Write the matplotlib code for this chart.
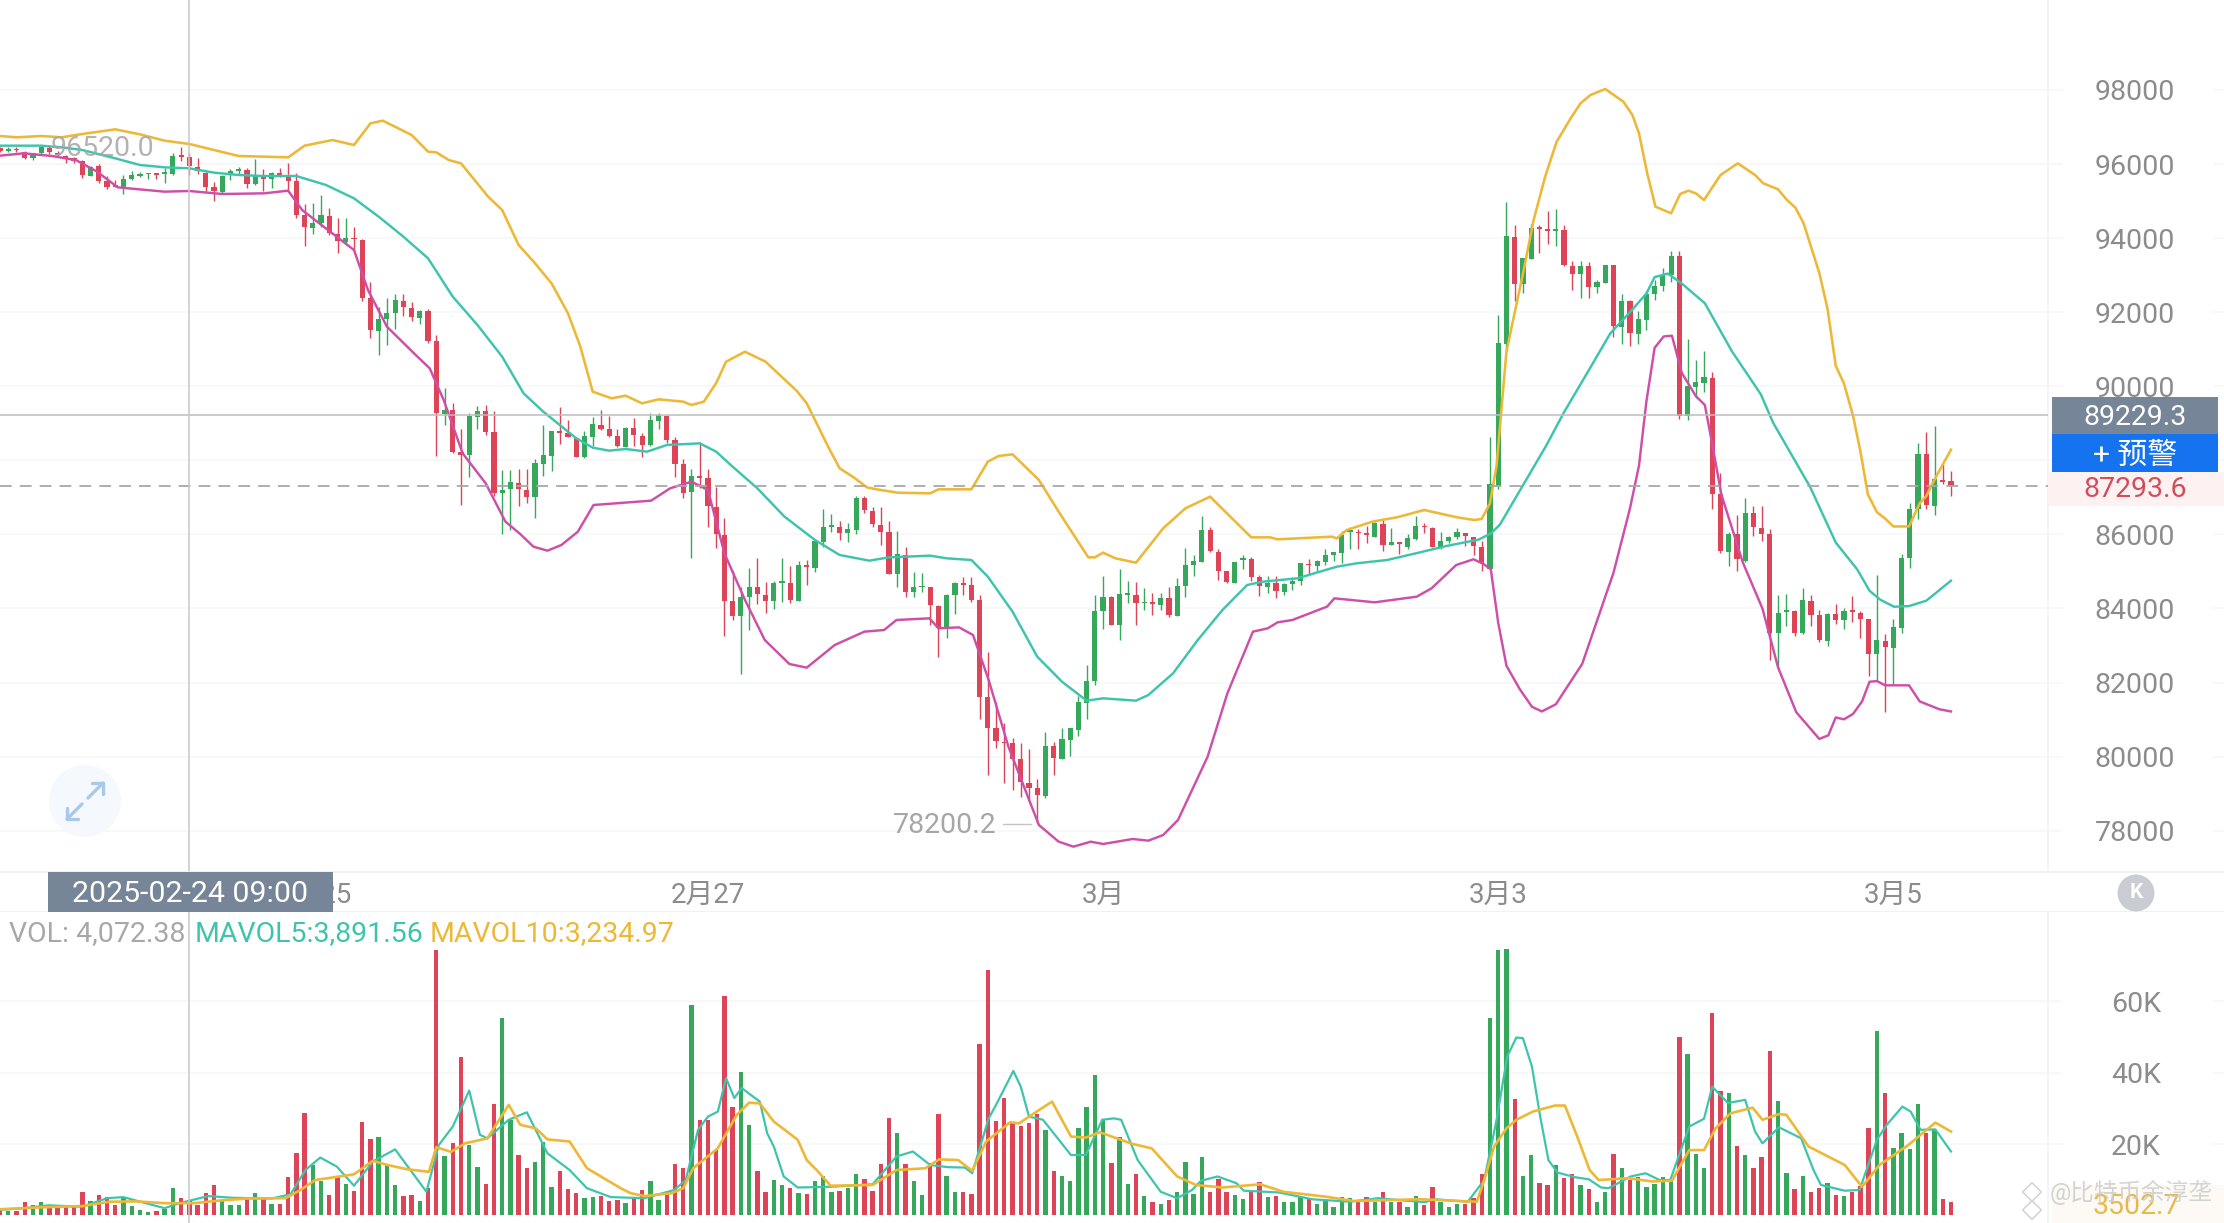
import matplotlib
matplotlib.use("Agg")
import matplotlib.pyplot as plt
from matplotlib.patches import Rectangle, Circle
import numpy as np

plt.rcParams['font.family'] = ['Roboto', 'Noto Sans CJK SC', 'DejaVu Sans']

# ---------------------------------------------------------------- data
open_ = [
96420,96360,96400,96325,96163,96289,96424,96307,96217,96154,
96073,95686,95947,95551,95425,95371,95587,95677,95722,95749,
95731,95722,96235,96199,95911,95767,95371,95245,95695,95803,
95839,95452,95659,95587,95749,95677,95551,94633,94282,94399,
94597,94111,93904,93985,93949,92374,91501,91807,91969,92311,
92122,91843,92041,91231,89242,89359,88234,88144,89179,89341,
88774,87109,87217,87397,87199,87019,87901,88126,88783,88729,
88594,88081,88639,88963,88837,88657,88369,88864,88666,88414,
89071,89197,88549,87901,87145,87559,87514,86749,85993,84211,
83797,84319,84571,84364,84193,84697,84697,84211,85174,85093,
85804,86209,86209,86029,86119,86974,86641,86263,86065,84931,
85444,84436,84571,84589,84067,83464,84364,84679,84643,84229,
81601,80764,80404,80359,79927,79297,79144,78937,80287,79945,
80449,80719,81457,82033,83932,84301,83563,84373,84364,84139,
84166,84094,84283,83806,84598,85165,85264,86119,85534,85003,
84697,85309,85327,84841,84571,84697,84454,84652,84733,85192,
85147,85255,85444,85489,86065,86074,86029,85939,86290,85723,
85786,85669,85876,86227,86182,85669,85831,85930,86029,85921,
85669,85077,87295,91152,94026,92753,93448,94296,94238,94200,
94219,93255,93023,93245,92676,92801,93274,91596,92310,91422,
91789,92483,92695,93004,93525,89205,89976,90101,90236,87083,
85521,86003,85290,86572,86167,86003,83342,83901,83920,83342,
84210,83824,83129,83843,83689,83920,83882,83708,82763,83130,
82937,83486,85367,86697,88163,86775,87449,87430]
close = [
96360,96400,96370,96163,96289,96469,96325,96235,96127,96073,
95695,95929,95533,95389,95389,95605,95704,95731,95749,95713,
95767,96217,96199,95947,95803,95371,95263,95677,95821,95857,
95461,95704,95587,95767,95713,95551,94633,94309,94399,94615,
94129,93931,94003,93967,92374,91519,91825,91987,92329,92149,
91861,92041,91231,89269,89359,88234,88144,89197,89341,88774,
87109,87199,87424,87217,87019,87919,88135,88792,88747,88639,
88099,88657,88981,88837,88666,88387,88882,88684,88423,89089,
89224,88549,87901,87127,87577,87532,86767,86011,84211,83806,
84319,84571,84391,84193,84697,84724,84229,85174,85129,85831,
86209,86254,86047,86137,86992,86659,86281,86074,84931,85471,
84454,84571,84616,84085,83464,84373,84679,84643,84229,81601,
80764,80422,80359,79945,79315,79162,78955,80296,79972,80467,
80764,81466,82051,83941,84319,83563,84382,84400,84139,84184,
84121,84283,83815,84607,85174,85282,86119,85543,85021,84706,
85264,85336,84850,84607,84679,84481,84661,84742,85219,85165,
85282,85444,85516,85984,86092,86029,85993,86299,85714,85795,
85732,85894,86227,86191,85669,85831,85939,86074,85957,85687,
85219,87372,91162,94045,92753,93467,94267,94248,94200,94238,
93274,93043,93255,92676,92821,93284,91615,92310,91442,91808,
92503,92705,93014,93525,89205,89995,90111,90246,87103,85540,
86022,85328,86582,86196,86022,83342,83872,83930,83342,84219,
83824,83149,83863,83689,83920,83901,83728,82783,83149,82956,
83496,85376,86697,88163,86794,87488,87411,87293.6]
high = [
96450,96450,96470,96361,96289,96496,96487,96361,96235,96199,
96109,95947,95992,95677,95569,95695,95812,95794,95749,95749,
95884,96289,96469,96289,96154,95785,95524,95704,95857,95911,
95884,96127,95857,95794,95884,96037,95749,94921,94939,95164,
94804,94534,94534,94309,93967,92824,92131,92374,92482,92491,
92275,92059,92086,91384,89944,89539,88837,89287,89467,89494,
89341,87739,87739,87757,87757,88027,88954,88792,89431,89089,
88639,88792,89161,89359,89197,88837,88891,89134,88747,89269,
89287,89215,88621,88027,87757,88504,87757,87271,86434,85012,
84571,85084,85354,84724,84751,85372,85147,85282,85309,85849,
86677,86551,86371,86317,87037,87037,86749,86731,86362,86101,
85651,84994,84949,84589,84094,84391,84715,84859,84841,84364,
82834,81484,80917,80494,80377,80197,79387,80674,80404,80764,
80764,81637,82474,84364,84877,84337,85075,84742,84724,84544,
84427,84427,84571,84814,85624,85444,86497,86191,85597,85021,
85264,85435,85381,84904,84886,84877,84697,84859,85237,85327,
85309,85597,85534,86101,86209,86146,86227,86344,86416,86164,
85804,86002,86506,86299,86209,86056,85966,86164,86047,85939,
85831,88626,91924,94971,94364,93467,94393,94364,94720,94798,
94364,93370,93370,93351,92869,93284,93284,92503,92339,92020,
92580,92869,93206,93660,93660,91278,90699,90940,90391,87662,
86071,86524,86987,86765,86765,86138,84354,84402,83949,84547,
84354,83949,83882,84123,84017,84335,83920,83727,84914,83322,
83727,85463,86842,88462,88771,88915,87903,87710]
low = [
96330,96330,96330,96145,96109,96271,96271,96199,96037,96037,
95614,95677,95497,95317,95371,95182,95569,95641,95605,95587,
95479,95704,96091,95704,95722,95254,95011,95227,95569,95731,
95344,95434,95281,95344,95641,95254,94534,93796,94120,94291,
94084,93607,93814,93661,92302,91294,90844,91114,91537,91897,
91771,91672,91177,88117,88954,88207,86794,87541,88837,88684,
87037,86011,86119,86767,86839,86452,87577,87721,88441,88621,
88081,88072,88387,88819,88639,88351,88351,88387,88081,88396,
88837,88459,87541,86974,85372,87244,86209,85624,83257,83689,
82222,83419,84121,83887,83986,84184,84139,84202,84634,84994,
85669,86074,85849,85804,86011,86587,86191,85714,84922,84589,
84301,84301,84454,83554,82681,83194,83851,84364,84184,81007,
79495,80224,79297,79099,78919,78784,78200.2,78874,79495,79927,
80017,80557,81025,81934,83446,83545,83149,84157,83545,83959,
83824,83959,83761,83797,84301,84886,85255,85525,84769,84697,
84679,85057,84751,84337,84409,84274,84364,84499,84634,84931,
84985,85165,85291,85237,85597,85615,85759,85939,85561,85705,
85471,85615,85849,86029,85651,85597,85759,85885,85687,85435,
85012,85058,87228,90940,92290,92531,93448,93611,93853,93785,
93235,92599,92387,92387,92531,92792,91326,91133,91085,91152,
91519,92339,92580,92821,89127,89089,89687,89851,86698,85492,
85135,85010,85251,85945,85810,82599,82406,83535,83245,83303,
83535,83091,82985,83593,83438,83631,83207,82185,82069,81201,
81924,83342,85106,86427,86678,86533,87372,87045]
volume = [
1700,1300,1300,3600,2800,3600,2600,2400,2200,2400,
6400,4100,5600,5200,2900,5200,2600,1500,1000,1100,
1700,7600,4800,4072.38,2900,6200,8500,4300,2800,2800,
4500,6200,5100,3200,3200,10700,17600,28800,14100,9500,
5600,10700,8800,6900,26100,21400,21900,14100,8500,5400,
5700,4100,7600,74500,16500,20200,44300,19700,13500,8800,
31200,55300,26800,16900,13400,14900,20700,8000,12400,7400,
6200,4900,5100,5400,4100,4300,3400,5100,7100,9600,
4300,6600,14400,13200,58900,26800,26800,18300,61400,30500,
40300,25400,12400,6500,10000,8500,7600,6200,6000,9500,
11000,6500,6900,7600,11500,10200,6900,14300,27400,23000,
14400,9500,5700,14600,28400,11000,6600,6400,6000,48200,
68900,26600,32900,25800,25100,25800,28500,24000,12500,11000,
9500,24400,30400,39400,27000,14800,22100,8800,11500,5400,
3700,3300,4200,6500,14900,6000,16300,6400,10200,6500,
5600,4700,6600,9400,5000,5400,3800,3700,5200,4500,
3200,4100,2200,5000,4800,4000,5200,3600,6600,3600,
3600,2200,5500,2900,7800,3800,2400,3100,3100,4800,
11600,55300,74400,74800,32600,10900,16900,9000,8500,14000,
10400,11600,8400,7500,3700,6400,17100,13200,9900,10700,
7800,8700,10700,9500,50000,45200,17200,13400,56700,34800,
34300,19500,16900,13200,16300,46000,32100,11800,7300,11000,
6600,7700,9000,5800,5500,6600,8200,24400,51700,34400,
18800,23200,18500,31200,23000,23800,4700,3600]

boll_up_k = [0,2,5,7.5,10,14,17,20,23,26,29,35,37,40.4,43,45,46.5,50,52,53,54.5,56,59.3,61,63,65,67,69,70.5,72,
             74.3,76,78,80,83,84,85.5,87,88.2,90.5,93,96.8,98,99.2,100.6,102,103.7,105.3,106.5,109,113,114,118,120,
             121.3,123,126.2,128.6,132.2,133,134,135.5,138,141.3,144,147,152,154.3,155.2,161.8,162.4,163.6,166.7,
             169.7,173,177,179.1,180,181,181.8,182.4,183,185.1,186.3,187.7,189.1,190.8,192,193.2,195,197.2,198.3,
             199.1,200.1,201.1,203,204.1,205.1,206,207,209,211.1,213.2,214.2,216,217,218.1,219.1,221,222,223,224,
             225.1,226,226.9,228,229,230,231.9,233.2,234,235.2,237]
boll_up = [96757,96721,96757,96721,96811,96937,96802,96631,96541,96379,96217,96181,96496,96649,96514,97099,97171,96784,
           96334,96316,96109,96019,95119,94759,93814,93319,92779,91969,91069,89854,89674,89746,89539,89647,89584,89494,
           89584,90088,90663,90933,90663,89872,89539,88999,88369,87784,87541,87271,87217,87127,87109,87217,87217,87964,
           88117,88162,87469,86614,85381,85381,85507,85354,85237,86164,86704,87019,85921,85921,85867,85939,85894,86119,
           86344,86461,86659,86461,86388,86420,86840,87855,89398,90940,93139,94489,95659,96604,97234,97639,97864,98026,
           97684,97324,96829,95749,94849,94669,95191,95281,95209,95029,95704,96019,95704,95479,95317,95047,94822,94399,
           93062,92098,90555,90073,89205,88240,87083,86601,86428,86215,86215,86842,87035,87565,88288]

boll_mid_k = [0,5,7.5,10,14,17,20,23,26,29,32,36,39.6,43,46,49,52,55,58,61,63.6,66,68,70,72,74,76,78.6,81,85,87,89,
              92,95.3,99,102,105.6,108,113,115,118,120,123,126,129,132,134,138,139.5,142.5,145.5,148.5,151.5,153.4,
              157.6,162.4,164.8,168.5,172,175.7,179.6,181.1,182.2,185,187.8,190,193.2,195.6,198.2,200,201,202.6,204.3,
              207.1,210.4,213.9,215.4,219.9,223,225.6,227.1,228.4,230.1,231.9,234,237]
boll_mid = [96496,96496,96451,96379,96154,95974,95911,95884,95767,95704,95677,95677,95434,95074,94579,94039,93454,92419,
            91654,90799,89809,89314,88954,88594,88342,88261,88306,88234,88414,88459,88234,87829,87244,86479,85849,85444,
            85291,85381,85426,85354,85309,84859,83914,82699,82024,81511,81574,81511,81664,82249,83149,83959,84634,84724,
            84814,85129,85219,85309,85489,85687,85858,86022,86263,87324,88385,89301,90507,91423,92049,92503,92946,93043,
            92773,92242,90940,89783,89012,87276,85781,85058,84480,84238,84046,84065,84210,84750]

boll_low_k = [0,2.9,6.3,9.2,11.8,14.3,20,23,27,32.1,35,36.7,40.1,43,44.7,47,50.5,52.2,53.9,56.2,59,61.4,63.1,64.8,66.5,
              68.2,70.2,72.1,79.1,81.4,84,86,88,90.5,92.9,95.9,98,101.4,105,107.4,108.9,112.9,114,116.5,118.2,120.1,
              122.5,126.2,128.6,130.4,132.5,134,137.6,139.5,141.3,143.1,146.7,149.1,152.2,154,155.2,157,161.2,162.1,
              167,172.1,173.9,176.9,179,180.2,181.1,182,183,184.6,186.1,187.3,189,192.2,196,198,199.1,200,201,202.1,
              203.1,204.3,206,207.1,208,209.1,211.7,214.1,216,218.2,221,222.1,223,224,225.1,226.2,227.1,228,229,231.9,
              233.2,235.6,237]
boll_low = [96226,96289,96217,96109,95794,95371,95254,95272,95191,95209,95281,94759,94174,93679,92599,91609,90844,90484,
            89629,88189,87379,86344,86029,85669,85561,85714,86074,86794,86911,87244,87424,87199,85489,84229,83149,82501,
            82402,83014,83374,83419,83689,83734,83464,83491,83284,82069,80269,78154,77704,77569,77704,77641,77776,77731,
            77884,78289,79999,81709,83374,83464,83626,83689,84049,84274,84166,84319,84544,85174,85328,85203,85058,83612,
            82454,81828,81346,81220,81413,82503,84962,86698,87855,89590,91037,91345,91365,90362,89735,89494,88433,87083,
            85251,83997,82406,81201,80478,80574,81057,81008,81153,81491,82021,82040,81925,81925,81491,81278,81220]

mavol5_k = [0,2.9,5.9,10,13,15,17.7,20,21.8,25.3,28.3,33,35.3,37.1,38.9,40.9,43,45.3,48,51.8,53.3,55,57,58.3,59.2,61.8,64,
            66.5,69.2,71.3,74.2,78.3,81.9,83.3,84.8,86,87.2,88.2,89.2,90.1,92.3,93.2,94,95.2,96.9,100.9,106,108.9,110.9,
            113,115.2,117.2,118.1,120.1,121,123.1,124,125,126.7,130.1,131.9,133.9,135.3,136.2,138.2,141,143,144.8,145.9,
            147.9,150.2,151.1,155.4,159.4,164,167.4,170.8,173.1,174.3,178.3,180.3,181.8,183.1,184.2,185,186.1,187.1,188.1,
            189.2,191.3,193,194.5,195.4,198.1,199.9,201.6,202.9,205.2,207,208,209.9,212,213.2,214.1,216.1,218.8,220.3,
            221.2,224.1,225.9,228,229.2,231.1,232.1,233.3,235.1,237]
mavol5 = [1500,2000,2800,2400,4800,5100,3400,2000,3400,5400,4900,4700,5900,12700,16200,13700,8300,15100,18500,6600,19700,
          24900,35000,22600,21600,26800,28900,17400,12700,7600,5100,4800,7100,9900,24000,27700,29100,38500,32900,35700,
          31900,23000,19300,10900,7800,8000,8700,16500,17900,14100,13500,13400,11800,27200,31000,40500,36100,27700,26800,
          16900,16900,26800,27200,26800,15500,6600,4800,7100,9700,10900,9000,6900,6400,4500,3800,4800,4100,3700,4500,3800,
          9900,26800,44600,49900,49700,41700,27700,15500,12000,10700,10100,7800,7600,10900,11800,9900,9900,24900,27100,
          36100,31500,32400,23500,20200,24700,21600,12700,8500,6900,7100,21200,25400,30500,29100,24000,24100,17900]

mavol10_k = [0,4.7,10,13.3,16.5,20,23.6,26.5,30,34.7,36.5,38.3,43,45.3,47.1,49.5,52.1,53,54.8,56.5,59.2,61.8,63.2,65.1,66.5,
             69.2,71.3,75.4,76.6,78.3,81.6,83,84.2,87.2,89.5,91,92.3,94,96.9,98,99.2,100.9,106,108.9,112.4,114.1,116.4,
             118.1,119.8,122.7,123.8,125.6,127.8,130.1,131.9,133.6,137.6,139.9,143,145.3,148.5,153.1,155.9,161.1,164.5,
             172.6,179.4,180.3,181.5,183,184.2,186.2,188.9,190.1,191.6,193.1,194.2,197.8,200.7,203.1,205.2,207,208.4,210.2,
             212.9,214.1,216.1,217,219.7,224.1,226.2,228.3,231.8,235.1,237]
mavol10 = [1700,2200,2600,3800,3900,3400,3400,4100,4700,4800,7100,9900,11500,15300,14100,12900,12200,19100,17800,20200,
           21600,31000,25400,24400,21300,20700,13200,7600,6200,5400,6200,7600,13200,18800,28200,31600,31400,26300,21200,
           15500,12700,8300,8500,12700,13200,15700,15500,12500,20700,26100,25800,28600,31900,22100,21800,23300,20000,18800,
           10900,8500,7800,8700,6600,5200,4000,4500,3800,9900,19300,24400,26800,29100,30800,30800,22100,12700,9900,10400,
           9500,9700,18300,18300,24400,28600,30200,26800,28400,28200,19300,14100,8000,14100,19700,26000,23500]

price_ticks = [78000, 80000, 82000, 84000, 86000, 88000, 90000, 92000, 94000, 96000, 98000]
price_labels = ['78000', '80000', '82000', '84000', '86000', '', '90000', '92000', '94000', '96000', '98000']
vol_ticks = [20000, 40000, 60000]
vol_labels = ['20K', '40K', '60K']
date_k = [38.2, 86, 134, 182, 230]
date_labels = ['2月25', '2月27', '3月', '3月3', '3月5']
cross_k = 23
last_price = 87293.6
cross_price = 89229.3

# ---------------------------------------------------------------- style
W, H = 2224, 1223
PX = 8.232
GREEN, RED = '#35A85B', '#DE4458'
YEL, TEAL, MAG = '#EDB836', '#3EC4AD', '#CE4FA8'
GRID = '#F6F6F6'
GRAY = '#8C8C8C'
SLATE = '#778598'
FS = 20.5

fig = plt.figure(figsize=(W / 100, H / 100), dpi=100, facecolor='white')
def axes_px(top, bottom):
    return fig.add_axes([0, 1 - bottom / H, 1, (bottom - top) / H])

ax = axes_px(0, 871.7)
ax_x = axes_px(871.7, 911.7)
ax_v = axes_px(911.7, H)
xlim = (0, W / PX)
k = np.arange(len(close))
o, c, hi, lo = map(np.array, (open_, close, high, low))
up = c >= o
colors = np.where(up, GREEN, RED)

# price panel
ax.set_xlim(xlim)
ax.set_ylim(76893, 100429)
GX1, GX2 = 2063 / W, 2213 / W
ax.hlines(price_ticks, 0, GX1, transform=ax.get_yaxis_transform(), color=GRID, lw=1.1, zorder=1)
ax.hlines(price_ticks, GX2, 1, transform=ax.get_yaxis_transform(), color=GRID, lw=1.1, zorder=1)
ax.axvline(2048 / PX, color='#F2F2F2', lw=1.2, zorder=1)
ax.vlines(k, lo, hi, colors=colors, lw=1.0, zorder=3)
body_h = np.maximum(np.abs(c - o), 45)
ax.bar(k, body_h, bottom=np.minimum(o, c), width=0.63, color=colors, lw=0, zorder=3)
ax.plot(boll_up_k, boll_up, color=YEL, lw=1.85, zorder=4, solid_joinstyle='round')
ax.plot(boll_mid_k, boll_mid, color=TEAL, lw=1.75, zorder=4, solid_joinstyle='round')
ax.plot(boll_low_k, boll_low, color=MAG, lw=1.75, zorder=4, solid_joinstyle='round')
lx2 = 2048 / W
ax.hlines(cross_price, 0, lx2, transform=ax.get_yaxis_transform(), color='#BDBDBD', lw=1.1, zorder=5)
ax.hlines(last_price, 0, lx2, transform=ax.get_yaxis_transform(), color='#A8A8A8', lw=1.3,
          linestyles=(0, (6.5, 4.5)), zorder=5)
ax.set_yticks(price_ticks, price_labels)
ax.yaxis.tick_right()
ax.tick_params(axis='y', length=0, pad=-(W - 2135) * 0.72, labelsize=FS, labelcolor=GRAY)
for t in ax.get_yticklabels():
    t.set_ha('center')
ax.set_xticks([])
for s in ax.spines.values():
    s.set_visible(False)

# date strip
ax_x.set_xlim(xlim)
ax_x.set_ylim(0, 1)
ax_x.set_yticks([])
ax_x.set_xticks(date_k, date_labels)
ax_x.tick_params(axis='x', length=0, pad=-30 * 0.72, labelsize=FS - 0.5, labelcolor=GRAY)
for n, s in ax_x.spines.items():
    s.set_visible(n in ('top', 'bottom'))
    s.set_color('#EFEFEF')
    s.set_linewidth(1.2)
ax_x.set_facecolor('none')

# volume panel
ax_v.set_xlim(xlim)
ax_v.set_ylim(-2163, 85197)
ax_v.hlines(vol_ticks, 0, GX1, transform=ax_v.get_yaxis_transform(), color=GRID, lw=1.1, zorder=1)
ax_v.hlines(vol_ticks, GX2, 1, transform=ax_v.get_yaxis_transform(), color=GRID, lw=1.1, zorder=1)
ax_v.axvline(2048 / PX, color='#F2F2F2', lw=1.2, zorder=1)
ax_v.bar(k, volume, width=0.53, color=colors, lw=0, zorder=3)
ax_v.plot(mavol5_k, mavol5, color=TEAL, lw=1.6, zorder=4, solid_joinstyle='round')
ax_v.plot(mavol10_k, mavol10, color=YEL, lw=1.9, zorder=4, solid_joinstyle='round')
ax_v.set_yticks(vol_ticks, vol_labels)
ax_v.yaxis.tick_right()
ax_v.tick_params(axis='y', length=0, pad=-(W - 2136) * 0.72, labelsize=FS, labelcolor=GRAY)
for t in ax_v.get_yticklabels():
    t.set_ha('center')
ax_v.set_xticks([])
for s in ax_v.spines.values():
    s.set_visible(False)

# crosshair through all panels
for a in (ax, ax_v):
    a.axvline(cross_k, color='#C8C8C8', lw=1.1, zorder=6)

# overlay in image pixels for labels and badges
ov = fig.add_axes([0, 0, 1, 1], zorder=10)
ov.set_xlim(0, W)
ov.set_ylim(H, 0)
ov.axis('off')
ov.patch.set_alpha(0)

def box(x0, y0, x1, y1, color, z=2):
    ov.add_patch(Rectangle((x0, y0), x1 - x0, y1 - y0, fc=color, ec='none', zorder=z))
def label(x, y, s, color, fs=FS, ha='center', z=5, **kw):
    ov.text(x, y, s, color=color, fontsize=fs, ha=ha, va='center', zorder=z, **kw)

# right side price badges
box(2048, 472, W, 505.5, '#FDF2F1')
box(2052, 396.7, 2218, 434, SLATE)
box(2052, 434, 2218, 471.7, '#1673F0')
label(2135, 417.5, '89229.3', 'white')
label(2135, 455.5, '+ 预警', 'white', fs=21.5)
label(2135, 489.5, '87293.6', '#D24D5B')

# extreme labels
label(102, 149, '96520.0', '#A6A6A6', alpha=0.85)
label(945, 825.5, '78200.2', '#A6A6A6')
ov.plot([1003, 1031], [823.5, 823.5], color='#C4C4C4', lw=1)

# crosshair date box
box(47.5, 872, 332.5, 911.7, SLATE)
label(190, 893.5, '2025-02-24 09:00', 'white', fs=21.8)

# volume legend
label(9, 934, 'VOL: 4,072.38', '#A8A8A8', fs=20.5, ha='left')
label(195, 934, 'MAVOL5:3,891.56', TEAL, fs=20.5, ha='left')
label(430, 934, 'MAVOL10:3,234.97', YEL, fs=20.5, ha='left')

# expand icon
ov.add_patch(Circle((85, 801), 36, fc='#F5F8FC', ec='none', zorder=2))
for xs, ys in (([67, 82], [819, 804]), ([67, 67, 78], [808, 819, 819]),
               ([103, 88], [783, 798]), ([92, 103, 103], [783, 783, 794])):
    ov.plot(xs, ys, color='#A9C9EC', lw=2.4, zorder=3, solid_capstyle='round')

# K button
ov.add_patch(Circle((2136, 893), 18.5, fc='#C9CDD3', ec='none', zorder=2))
label(2136, 893, 'K', 'white', fs=15, fontweight='bold')

# watermark corner
box(2052, 1185, W, H, '#FDFAF6')
label(2136, 1206, '3502.7', '#E8B84B', fs=FS)
label(2050, 1192, '@比特币余淳垄', '#CFCFCF', fs=17, ha='left', z=6, alpha=0.9)
ov.scatter([2032, 2032], [1192, 1210], marker='D', s=90, fc='none', ec='#D5D5D5', lw=1.2, zorder=6)

fig.savefig('out.png', dpi=100, facecolor='white')
